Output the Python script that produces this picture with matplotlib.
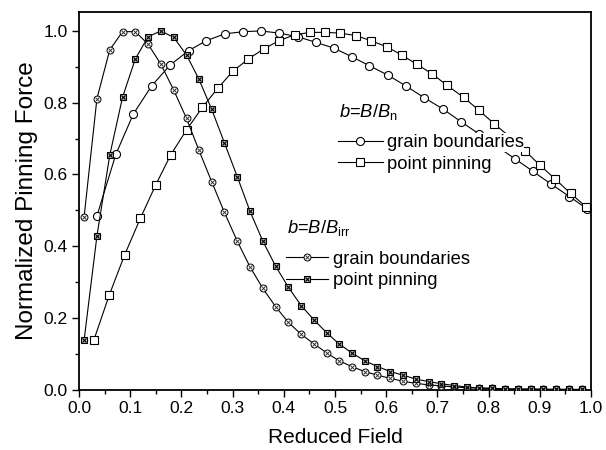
import matplotlib
matplotlib.use('Agg')
import matplotlib.pyplot as plt
from matplotlib.legend_handler import HandlerTuple

# ---------------- data ----------------
# b = B/Bn, grain boundaries (open circles)
x_gb_n = [0.035, 0.072, 0.106, 0.142, 0.178, 0.214, 0.249, 0.285, 0.321, 0.355,
          0.391, 0.427, 0.463, 0.498, 0.533, 0.567, 0.603, 0.638, 0.674, 0.710,
          0.746, 0.781, 0.816, 0.852, 0.887, 0.922, 0.958, 0.992]
y_gb_n = [0.484, 0.656, 0.768, 0.847, 0.905, 0.945, 0.973, 0.992, 0.998, 1.000,
          0.994, 0.984, 0.968, 0.952, 0.928, 0.903, 0.877, 0.847, 0.814, 0.783,
          0.747, 0.713, 0.678, 0.643, 0.608, 0.573, 0.538, 0.504]

# b = B/Bn, point pinning (open squares)
x_pp_n = [0.029, 0.059, 0.089, 0.120, 0.150, 0.179, 0.210, 0.241, 0.271, 0.300,
          0.331, 0.361, 0.391, 0.421, 0.451, 0.480, 0.510, 0.541, 0.570, 0.601,
          0.630, 0.660, 0.690, 0.719, 0.751, 0.781, 0.811, 0.841, 0.871, 0.900,
          0.930, 0.960, 0.990]
y_pp_n = [0.138, 0.263, 0.375, 0.478, 0.571, 0.654, 0.724, 0.787, 0.840, 0.887,
          0.922, 0.950, 0.973, 0.989, 0.996, 0.996, 0.994, 0.987, 0.973, 0.956,
          0.933, 0.907, 0.880, 0.848, 0.815, 0.779, 0.741, 0.705, 0.666, 0.626,
          0.587, 0.547, 0.510]

# b = B/Birr, common field grid
x_irr = [0.010, 0.035, 0.060, 0.085, 0.110, 0.135, 0.160, 0.185, 0.210, 0.234,
         0.259, 0.284, 0.309, 0.334, 0.359, 0.384, 0.409, 0.434, 0.459, 0.484,
         0.508, 0.533, 0.558, 0.583, 0.608, 0.633, 0.658, 0.683, 0.708, 0.733,
         0.757, 0.782, 0.807, 0.832, 0.857, 0.882, 0.907, 0.932, 0.957, 0.982]
# grain boundaries (crossed circles)
y_gb_irr = [0.482, 0.811, 0.947, 0.998, 0.998, 0.963, 0.907, 0.835, 0.756, 0.668,
            0.580, 0.494, 0.414, 0.342, 0.282, 0.231, 0.187, 0.154, 0.127, 0.102,
            0.080, 0.064, 0.050, 0.040, 0.031, 0.023, 0.017, 0.013, 0.010, 0.007,
            0.005, 0.004, 0.003, 0.002, 0.001, 0.001, 0.0005, 0.0003, 0.0002, 0.0001]
# point pinning (crossed squares)
y_pp_irr = [0.138, 0.428, 0.653, 0.815, 0.922, 0.984, 1.000, 0.982, 0.933, 0.866,
            0.782, 0.688, 0.594, 0.497, 0.414, 0.344, 0.285, 0.234, 0.194, 0.158,
            0.127, 0.102, 0.080, 0.064, 0.050, 0.040, 0.029, 0.022, 0.016, 0.011,
            0.007, 0.004, 0.003, 0.002, 0.001, 0.001, 0.0005, 0.0003, 0.0002, 0.0001]

x_ticks = [0.0, 0.1, 0.2, 0.3, 0.4, 0.5, 0.6, 0.7, 0.8, 0.9, 1.0]
y_ticks = [0.0, 0.2, 0.4, 0.6, 0.8, 1.0]
label_gb = "grain boundaries"
label_pp = "point pinning"
title_n = r"$b$=$B$/$B_{\rm n}$"
title_irr = r"$b$=$B$/$B_{\rm irr}$"

# ---------------- style ----------------
plt.rcParams['font.family'] = ['Liberation Sans', 'DejaVu Sans']
plt.rcParams['mathtext.fontset'] = 'custom'
plt.rcParams['mathtext.rm'] = 'Liberation Sans'
plt.rcParams['mathtext.it'] = 'Liberation Sans:italic'
plt.rcParams['mathtext.bf'] = 'Liberation Sans:bold'

W, H = 606, 450
fig = plt.figure(figsize=(W / 100, H / 100), dpi=100)
ax = fig.add_axes([79 / W, 1 - 389.5 / H, (591 - 79) / W, (389.5 - 12.3) / H])

lw = 0.8
# open circles
l_gbn, = ax.plot(x_gb_n, y_gb_n, '-', color='black', lw=lw, marker='o', ms=5.8,
                 mfc='white', mec='black', mew=0.8, zorder=3)
# open squares
l_ppn, = ax.plot(x_pp_n, y_pp_n, '-', color='black', lw=lw, marker='s', ms=5.4,
                 mfc='white', mec='black', mew=0.8, zorder=3)
# crossed circles
l_gbi, = ax.plot(x_irr, y_gb_irr, '-', color='black', lw=lw, marker='o', ms=5.0,
                 mfc='white', mec='black', mew=0.7, zorder=3)
l_gbi_x, = ax.plot(x_irr, y_gb_irr, ls='none', marker='x', ms=2.8, mec='#333333',
                   mew=0.7, zorder=4)
# crossed squares
l_ppi, = ax.plot(x_irr, y_pp_irr, '-', color='black', lw=lw, marker='s', ms=4.6,
                 mfc='#bbbbbb', mec='black', mew=0.8, zorder=3)
l_ppi_x, = ax.plot(x_irr, y_pp_irr, ls='none', marker='x', ms=3.4, mec='black',
                   mew=0.8, zorder=4)

ax.set_xlim(0, 1.0)
ax.set_ylim(0, 1.052)
ax.set_xticks(x_ticks)
ax.set_xticklabels([f"{v:.1f}" for v in x_ticks])
ax.set_yticks(y_ticks)
ax.set_yticklabels([f"{v:.1f}" for v in y_ticks])
ax.set_xticks([0.05 + 0.1 * i for i in range(10)], minor=True)
ax.set_yticks([0.1, 0.3, 0.5, 0.7, 0.9], minor=True)
ax.tick_params(which='both', direction='out', top=False, right=False,
               labelsize=12.5, width=1.0, color='black')
ax.tick_params(which='major', length=5, pad=3)
ax.tick_params(which='minor', length=3)
for s in ax.spines.values():
    s.set_linewidth(1.3)

ax.set_xlabel("Reduced Field", fontsize=15, labelpad=9)
ax.set_ylabel("Normalized Pinning Force", fontsize=17.5, labelpad=4)

# ---------------- legends ----------------
fs = 13.2
fig.text(339 / W, 1 - 117 / H, title_n, fontsize=fs, ha='left', va='baseline')
fig.text(287 / W, 1 - 233.5 / H, title_irr, fontsize=fs, ha='left', va='baseline')

leg1 = ax.legend([l_gbn, l_ppn], [label_gb, label_pp], fontsize=fs,
                 loc='upper left', bbox_to_anchor=(338 / W, 1 - 134 / H),
                 bbox_transform=fig.transFigure, frameon=False, borderpad=0,
                 borderaxespad=0, handlelength=2.45, handletextpad=0.2,
                 labelspacing=0.26, numpoints=1)
for t in leg1.get_texts():
    t.set_bbox(dict(facecolor='white', edgecolor='none', pad=0.5))
ax.add_artist(leg1)

leg2 = ax.legend([(l_gbi, l_gbi_x), (l_ppi, l_ppi_x)], [label_gb, label_pp],
                 handler_map={tuple: HandlerTuple(ndivide=1)}, fontsize=fs,
                 loc='upper left', bbox_to_anchor=(286 / W, 1 - 250.5 / H),
                 bbox_transform=fig.transFigure, frameon=False, borderpad=0,
                 borderaxespad=0, handlelength=2.3, handletextpad=0.25,
                 labelspacing=0.26, numpoints=1)
for t in leg2.get_texts():
    t.set_bbox(dict(facecolor='white', edgecolor='none', pad=0.5))

fig.savefig('out.png', dpi=100)
